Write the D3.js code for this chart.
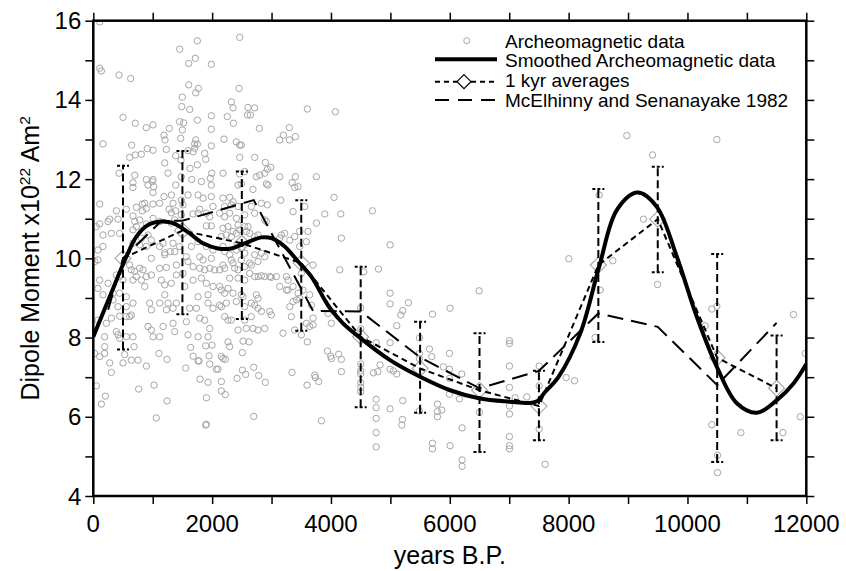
<!DOCTYPE html>
<html><head><meta charset="utf-8">
<script src="https://cdn.jsdelivr.net/npm/d3@7"></script>
<style>body{margin:0;background:#fff}svg{display:block}text{font-family:"Liberation Sans",Arial,sans-serif}</style>
</head><body><svg id="c" width="846" height="571"></svg>
<script>
// ---------- data ----------
const archeoData = [
[108,15.97],[1751,15.49],[1454,15.28],[1717,15.05],[1606,14.92],[1987,14.90],[108,14.80],[135,14.73],[433,14.63],[629,14.54],[1606,14.38],[1768,14.29],[1724,14.18],[1498,14.07],[1488,13.83],[1623,13.76],[500,13.56],[707,13.41],[892,13.30],[1005,13.37],[1279,13.28],[1190,13.11],[1207,12.99],[1454,13.45],[1521,13.42],[1498,13.24],[1751,13.49],[1987,13.60],[1987,13.26],[1471,13.03],[1724,12.99],[1707,12.89],[1751,12.88],[1987,12.84],[163,12.89],[646,12.86],[909,12.77],[1005,12.73],[612,12.55],[707,12.61],[808,12.63],[1229,12.75],[1387,12.59],[1594,12.72],[1678,12.69],[1707,12.78],[1875,12.65],[1202,12.41],[1476,12.48],[1628,12.27],[1751,12.36],[1892,12.50],[1993,12.15],[1970,12.02],[433,12.15],[697,12.10],[892,11.99],[1005,11.99],[1258,12.15],[1481,12.06],[1657,11.99],
[2464,15.58],[2453,14.29],[2324,13.95],[2352,13.80],[2604,13.81],[2716,13.80],[2594,13.62],[2644,13.62],[3603,13.77],[4075,13.70],[2256,13.58],[2358,13.41],[2795,13.28],[3300,13.30],[3199,13.11],[3138,12.99],[3300,12.99],[3401,13.07],[2200,13.01],[2407,12.94],[2464,12.86],[2492,12.86],[2464,12.55],[2716,12.55],[2896,12.42],[2930,12.25],[2986,12.30],[2885,12.15],[2801,12.10],[2744,12.06],[2183,12.15],[2464,12.13],[2548,12.19],[3138,12.06],[3401,12.06],[3754,12.06],
[668,11.91],[668,11.79],[921,11.85],[994,11.94],[1016,11.81],[1005,11.66],[1190,11.56],[1314,11.60],[1387,11.85],[1594,11.60],[1819,11.94],[1987,11.85],[107,11.37],[826,11.37],[865,11.39],[1005,11.37],[1117,11.39],[1342,11.39],[1482,11.47],[1510,11.35],[1275,11.24],[1314,11.15],[1387,11.20],[893,11.26],[826,11.20],[556,11.24],[725,11.29],[1763,11.60],[1847,11.52],[1987,11.56],[2015,11.31],[1791,11.24],[1679,11.12],[1763,11.14],[1903,11.14],[1959,11.05],[388,11.20],[276,10.99],[248,10.93],[107,10.87],[51,10.80],[416,10.99],[668,11.07],[697,10.93],[781,10.97],[893,10.87],[1005,11.01],[1117,10.93],[1903,10.82],[1987,10.82],[1482,11.10],[1314,10.89],[1370,10.97],[725,10.80],[668,10.72],[444,10.63],[304,10.63],[163,10.59],[79,10.21],[163,10.30],[79,9.96],[23,9.92],[921,10.59],[809,10.51],[977,10.46],[893,10.30],[668,10.38],[781,10.34],[1117,10.30],[1174,10.38],[1202,10.14],[1297,10.17],[1342,10.38],[1454,10.30],[1370,10.17],[1651,10.30],[1763,10.42],[1903,10.30],[2015,10.21],[1987,10.00],[1847,9.96],[1791,10.04],[977,10.00],[1117,9.75],[1230,9.77],[1398,9.83],[1202,10.09],[1566,10.04],[1594,9.92],[1679,9.79],[1791,9.75],[1875,9.71],[1959,9.75],[2043,9.71],[612,9.83],[640,9.71],[697,9.67],[781,9.75],[837,9.71],[725,9.54],[668,9.45],[809,9.45],[865,9.29],[893,9.54],[977,9.58],[107,9.45],[248,9.37],[388,9.58],[444,9.54],[500,9.45],[1145,9.45],[1202,9.33],[1314,9.37],[1398,9.58],[1510,9.62],[1538,9.29],[1679,9.45],[1819,9.50],[1903,9.37],[2015,9.29],[1931,9.08],[79,9.24],[163,9.08],[332,9.12],[444,9.12],[556,9.03],[668,8.87],[556,8.78],[416,8.78],[332,8.95],[949,8.87],[977,8.70],[1202,9.08],[1117,8.87],[1258,8.87],[1230,8.70],[1342,8.74],[1398,8.87],[1622,8.74],[1735,8.74],[1763,9.03],[1931,8.87],[2015,8.74],[79,8.44],[220,8.36],[304,8.49],[444,8.54],[556,8.53],[612,8.53],[640,8.57],[1342,8.36],[1370,8.15],[1566,8.40],[1791,8.49],[1875,8.44],[1959,8.23],[1931,8.02],[921,8.28],[977,8.19],[1174,8.28],[1005,8.02],[1117,8.02],[388,8.15],[416,8.07],[444,7.98],[556,8.02],[668,8.02],[1594,8.07],[1763,8.02],[191,8.02],
[2436,11.85],[2492,11.88],[2688,11.74],[2913,11.88],[2941,11.85],[3345,11.91],[3390,11.79],[3446,11.81],[2183,11.52],[2295,11.54],[2352,11.43],[2211,11.31],[2323,11.35],[2436,11.31],[2660,11.31],[2829,11.39],[2930,11.35],[3154,11.47],[3362,11.18],[3558,11.31],[3895,11.12],[4052,11.54],[2127,11.14],[2211,11.05],[2295,11.14],[2408,11.01],[2548,11.10],[2716,11.14],[2885,10.97],[2913,10.93],[2183,10.76],[2267,10.80],[2352,10.68],[2408,10.63],[2464,10.72],[2548,10.80],[2576,10.68],[2632,10.63],[2604,10.80],[2436,10.84],[2716,10.55],[2772,10.59],[2239,10.59],[2323,10.55],[2155,10.55],[3165,10.59],[3137,10.51],[3221,10.63],[3306,10.46],[3390,10.55],[3474,10.68],[3586,10.42],[3614,10.68],[3474,10.30],[3755,10.89],[4175,10.51],[4147,9.71],[2183,10.30],[2211,10.17],[2295,10.09],[2408,10.21],[2492,10.25],[2548,10.13],[2716,10.09],[2829,10.13],[2885,10.04],[2323,9.96],[2352,9.88],[2380,9.75],[2436,9.71],[2492,9.96],[2548,9.79],[2632,9.88],[2660,9.83],[2772,9.92],[2183,9.83],[2127,9.71],[2211,9.75],[2716,9.54],[2772,9.54],[2829,9.56],[2885,9.54],[2969,9.54],[2997,9.52],[2632,9.62],[2548,9.45],[2436,9.50],[2295,9.50],[3081,9.54],[3250,9.54],[3278,9.45],[3502,9.62],[3698,9.83],[3137,9.29],[3250,9.20],[3278,9.20],[3362,9.29],[3446,9.12],[3530,9.20],[2127,9.29],[2155,9.20],[2211,9.12],[2352,9.12],[2267,9.24],[2492,9.08],[2520,9.03],[2744,9.08],[2772,8.99],[2127,8.82],[2155,8.78],[2239,8.87],[2408,8.91],[2548,8.78],[2660,8.87],[2716,8.82],[2772,8.74],[3306,8.78],[3362,8.91],[3418,8.95],[3474,8.99],[3642,9.08],[3670,8.82],[2211,8.53],[2267,8.44],[2323,8.44],[2548,8.44],[2660,8.53],[2829,8.66],[2969,8.66],[2997,8.57],[3334,8.53],[3586,8.36],[3642,8.28],[3698,8.49],[3698,8.32],[3951,8.61],[4007,8.36],[2436,8.19],[2576,8.23],[2688,8.23],[2772,8.19],[2885,8.23],[3193,8.11],[3390,8.19],[3502,8.07],
[191,7.77],[107,7.52],[23,7.60],[191,7.60],[276,7.36],[304,7.12],[500,7.36],[528,7.57],[640,7.43],[753,7.43],[685,7.77],[893,7.28],[51,6.78],[203,6.52],[135,6.32],[764,6.70],[1022,6.80],[1106,7.60],[1241,7.45],[1241,6.40],[1061,5.97],[1555,7.23],[1639,7.75],[1679,7.53],[1763,7.41],[1780,7.41],[1892,7.79],[1948,7.54],[1959,7.33],[1998,7.81],[2071,7.20],[1796,6.95],[1931,6.87],[1903,6.48],[1903,5.81],[1892,5.79],
[2267,7.89],[2295,7.77],[2520,7.91],[2621,7.89],[2155,7.52],[2183,7.47],[2222,7.45],[2509,7.62],[2099,7.20],[2155,6.89],[2155,6.65],[2222,6.56],[2419,6.97],[2509,7.18],[2565,7.07],[2700,7.25],[2784,7.04],[2896,6.87],[2700,6.01],[3345,7.12],[3603,7.89],[3597,6.80],[3726,7.05],[3738,6.99],[3794,6.89],[3839,5.90],[3940,7.66],[3996,7.53],[4007,7.47],[4130,7.58],[4175,7.45],[4175,7.14],
[4165,11.12],[4698,11.20],[4995,10.34],[4799,9.73],[4552,9.66],[4501,8.75],[4995,9.12],[4995,8.85],[5304,8.88],[5208,8.68],[5175,8.57],[5107,8.30],[5708,8.59],[6005,8.74],[6493,9.18],[7004,7.92],[7004,7.85],[4501,8.22],[4501,7.33],[4501,7.16],[4501,7.08],[4501,6.86],[4501,6.74],[4501,6.63],[4715,7.11],[4788,7.14],[4827,7.31],[4760,7.87],[4995,7.87],[4995,7.20],[5051,7.16],[5107,7.08],[5208,6.41],[5203,5.93],[5192,5.79],[4760,6.44],[4760,6.23],[4760,5.96],[4760,5.60],[4760,5.24],[4995,6.20],[5489,7.99],[5489,7.60],[5489,7.47],[5489,6.15],[5657,7.71],[5697,7.52],[5792,6.32],[5792,6.13],[5792,6.00],[5865,6.17],[5708,5.33],[5708,5.19],[5893,7.26],[5994,7.20],[5994,6.97],[5994,6.57],[5994,7.60],[6005,5.27],[6202,7.08],[6162,6.45],[6207,5.72],[6207,4.91],[6207,4.75],[6499,6.11],[7004,7.28],[7004,6.74],[7004,6.27],[7004,6.07],[7004,5.50],[7004,5.27],[7004,5.19],[7100,6.48],[7296,6.50],[7504,7.28],[7504,6.78],[7504,5.69],[7605,4.80],[7958,6.99],[8099,6.91],[8003,9.99],
[8979,13.10],[10495,13.00],[9412,12.61],[8514,11.60],[9260,10.99],[8744,9.94],[8530,9.20],[9496,9.34],[10410,8.72],[10495,8.79],[10298,8.30],[11785,8.58],[8446,8.00],[11982,7.60],[10410,5.80],[10899,5.60],[10506,5.03],[10506,4.59],[11606,5.60],[11898,6.00]
];

const smoothYears  = [0,276,556,725,921,1145,1342,1622,1847,2099,2323,2548,2829,2997,3221,3446,3670,3895,3985,4203,4501,4995,5500,6005,6510,7016,7352,7480,7600,7830,8194,8514,8811,9159,9484,9821,10158,10495,10831,11168,11505,11785,12000];
const smoothValues = [8.02,9.03,10.04,10.55,10.84,10.93,10.89,10.63,10.38,10.25,10.25,10.38,10.53,10.51,10.30,9.92,9.54,8.95,8.74,8.36,7.98,7.43,7.01,6.67,6.46,6.38,6.35,6.40,6.62,7.01,8.10,9.79,11.22,11.66,11.30,10.04,8.52,7.26,6.34,6.10,6.42,6.84,7.33];

const kyrYears  = [500,1500,2500,3500,4500,5500,6500,7500,8500,9500,10500,11500];
const kyrValues = [10.0,10.70,10.38,9.88,8.02,7.22,6.67,6.27,9.83,10.99,7.49,6.72];
const kyrLow    = [7.70,8.59,8.47,8.17,6.24,6.10,5.11,5.41,7.89,9.65,4.86,5.41];
const kyrHigh   = [12.34,12.71,12.19,11.47,9.79,8.40,8.11,7.16,11.75,12.31,10.11,8.05];

const mcYears  = [250,500,1150,1500,2700,3700,4500,5500,6500,7500,8500,9500,10500,11500];
const mcValues = [8.70,10.0,10.95,10.95,11.47,8.67,8.66,7.50,6.72,7.16,8.61,8.27,6.80,8.37];

const xTickLabels = [0,2000,4000,6000,8000,10000,12000];
const yTickLabels = [4,6,8,10,12,14,16];
const legendLabels = ["Archeomagnetic data","Smoothed Archeomagnetic data","1 kyr averages","McElhinny and Senanayake 1982"];

// ---------- drawing ----------
const svg = d3.select("#c");
const x = d3.scaleLinear().domain([0,12000]).range([93.3,806.3]);
const y = d3.scaleLinear().domain([4,16]).range([496,20.7]);

const plot = svg.append("g");
plot.append("clipPath").attr("id","clip").append("rect")
  .attr("x",x(0)).attr("y",y(16)).attr("width",x(12000)-x(0)).attr("height",y(4)-y(16));
const inner = plot.append("g").attr("clip-path","url(#clip)");

// scatter
inner.append("g").selectAll("circle").data(archeoData).join("circle")
  .attr("cx",d=>x(d[0])).attr("cy",d=>y(d[1])).attr("r",3.2)
  .attr("fill","none").attr("stroke","#a6a6a6").attr("stroke-width",1);

const kyr = kyrYears.map((yr,i)=>({yr,v:kyrValues[i],lo:kyrLow[i],hi:kyrHigh[i]}));

// diamonds
const diamond = (cx,cy,s)=>`M${cx},${cy-s}L${cx+s},${cy}L${cx},${cy+s}L${cx-s},${cy}Z`;
inner.append("g").selectAll("path").data(kyr).join("path")
  .attr("d",d=>diamond(x(d.yr),y(d.v),8))
  .attr("fill","none").attr("stroke","#aaaaaa").attr("stroke-width",1.2);

// error bars
const eb = inner.append("g").attr("stroke","#000").attr("stroke-width",2).attr("fill","none");
kyr.forEach(d=>{
  eb.append("line").attr("x1",x(d.yr)).attr("x2",x(d.yr)).attr("y1",y(d.lo)).attr("y2",y(d.hi)).attr("stroke-dasharray","8,4");
  [d.lo,d.hi].forEach(v=>{
    eb.append("line").attr("x1",x(d.yr)-6).attr("x2",x(d.yr)+6).attr("y1",y(v)).attr("y2",y(v)).attr("stroke-dasharray","3,2");
  });
});

// 1 kyr line
inner.append("path").datum(kyr)
  .attr("d",d3.line().x(d=>x(d.yr)).y(d=>y(d.v)))
  .attr("fill","none").attr("stroke","#000").attr("stroke-width",2).attr("stroke-dasharray","6,4");

// McElhinny
inner.append("path").datum(mcYears.map((yr,i)=>[yr,mcValues[i]]))
  .attr("d",d3.line().x(d=>x(d[0])).y(d=>y(d[1])))
  .attr("fill","none").attr("stroke","#000").attr("stroke-width",2).attr("stroke-dasharray","16,8");

// smoothed
inner.append("path").datum(smoothYears.map((yr,i)=>[yr,smoothValues[i]]))
  .attr("d",d3.line().x(d=>x(d[0])).y(d=>y(d[1])).curve(d3.curveCatmullRom.alpha(0.5)))
  .attr("fill","none").attr("stroke","#000").attr("stroke-width",4).attr("stroke-linejoin","round");

// axes
const tickStyle = g=>{g.select(".domain").remove();g.selectAll("line").attr("stroke","#000").attr("stroke-width",1.5);};
const minorX = d3.range(0,12001,1000), minorY = d3.range(4,16.01,1);
svg.append("g").attr("transform",`translate(0,${y(4)})`)
  .call(d3.axisBottom(x).tickValues(minorX).tickSize(8).tickFormat(""))
  .call(tickStyle);
svg.append("g").attr("transform",`translate(0,${y(16)})`)
  .call(d3.axisTop(x).tickValues(minorX).tickSize(8).tickFormat(""))
  .call(tickStyle);
svg.append("g").attr("transform",`translate(${x(0)},0)`)
  .call(d3.axisLeft(y).tickValues(minorY).tickSize(8).tickFormat(""))
  .call(tickStyle);
svg.append("g").attr("transform",`translate(${x(12000)},0)`)
  .call(d3.axisRight(y).tickValues(minorY).tickSize(8).tickFormat(""))
  .call(tickStyle);

// tick labels
svg.append("g").selectAll("text").data(xTickLabels).join("text")
  .attr("x",d=>x(d)).attr("y",y(4)+36).attr("text-anchor","middle")
  .attr("font-size",24).text(d=>d);
svg.append("g").selectAll("text").data(yTickLabels).join("text")
  .attr("x",x(0)-12).attr("y",d=>y(d)+8.5).attr("text-anchor","end")
  .attr("font-size",24).text(d=>d);

// frame
svg.append("rect").attr("x",x(0)).attr("y",y(16)).attr("width",x(12000)-x(0)).attr("height",y(4)-y(16))
  .attr("fill","none").attr("stroke","#000").attr("stroke-width",2.5);

// axis titles
svg.append("text").attr("x",(x(0)+x(12000))/2).attr("y",564).attr("text-anchor","middle")
  .attr("font-size",25).text("years B.P.");
const yt = svg.append("text").attr("transform",`translate(39,${(y(4)+y(16))/2}) rotate(-90)`)
  .attr("text-anchor","middle").attr("font-size",25);
yt.append("tspan").text("Dipole Moment x10");
yt.append("tspan").attr("font-size",15.5).attr("dy",-9.5).text("22");
yt.append("tspan").attr("dy",9.5).text(" Am");
yt.append("tspan").attr("font-size",15.5).attr("dy",-9.5).text("2");

// legend
const lg = svg.append("g");
const lx0 = 435, lx1 = 497, tx = 505;
const symY = [40.7,59.3,81.7,100], textY = [48,67,87,107.3];
lg.append("circle").attr("cx",466.7).attr("cy",symY[0]).attr("r",3).attr("fill","none").attr("stroke","#a6a6a6");
lg.append("line").attr("x1",lx0).attr("x2",lx1).attr("y1",symY[1]).attr("y2",symY[1]).attr("stroke","#000").attr("stroke-width",4);
lg.append("line").attr("x1",lx0).attr("x2",lx1).attr("y1",symY[2]).attr("y2",symY[2]).attr("stroke","#000").attr("stroke-width",2).attr("stroke-dasharray","5,4");
lg.append("path").attr("d",diamond(464,symY[2],7)).attr("fill","#fff").attr("stroke","#000").attr("stroke-width",1.2);
lg.append("line").attr("x1",lx0).attr("x2",lx1).attr("y1",symY[3]).attr("y2",symY[3]).attr("stroke","#000").attr("stroke-width",2).attr("stroke-dasharray","14,9");
lg.selectAll("text").data(legendLabels).join("text")
  .attr("x",tx).attr("y",(d,i)=>textY[i]).attr("font-size",19).text(d=>d);
</script></body></html>
